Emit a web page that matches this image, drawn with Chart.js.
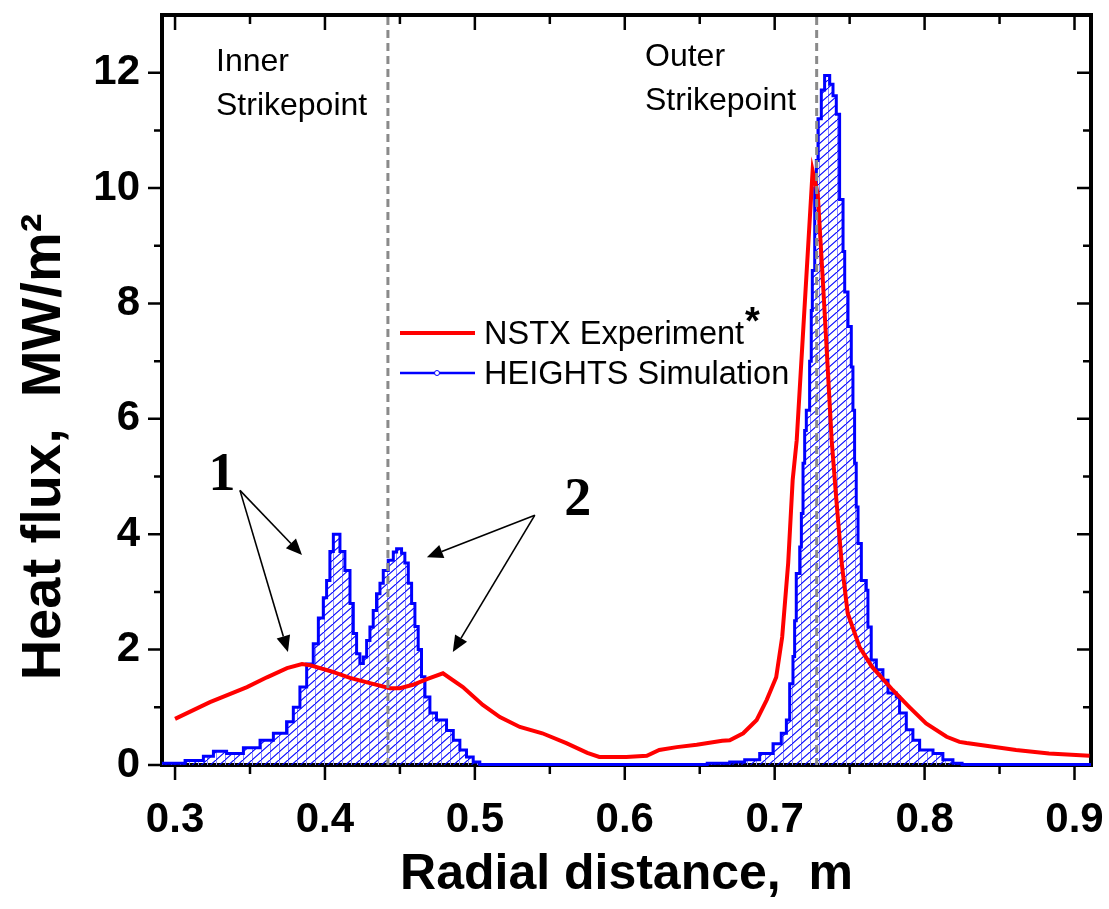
<!DOCTYPE html>
<html>
<head>
<meta charset="utf-8">
<script src="https://cdn.jsdelivr.net/npm/chart.js@4.4.0/dist/chart.umd.min.js"></script>
<style>
  html, body { margin: 0; padding: 0; background: #fff; }
</style>
</head>
<body>
<canvas id="chart" width="1109" height="909"></canvas>
<script>
// DATA - NSTX experiment (red curve)
const expX = [0.300, 0.3233, 0.348, 0.3613, 0.3747, 0.3847, 0.39, 0.4033, 0.4167, 0.43, 0.4433, 0.45, 0.4587, 0.468, 0.4787, 0.492, 0.5053, 0.5167, 0.53, 0.545, 0.561, 0.575, 0.583, 0.601, 0.6147, 0.623, 0.6347, 0.648, 0.665, 0.67, 0.679, 0.688, 0.6947, 0.701, 0.705, 0.709, 0.712, 0.7147, 0.7253, 0.7287, 0.732, 0.7347, 0.738, 0.741, 0.7447, 0.7487, 0.7567, 0.765, 0.7787, 0.79, 0.801, 0.8147, 0.8233, 0.828, 0.861, 0.883, 0.91];
const expY = [0.80, 1.09, 1.35, 1.52, 1.68, 1.75, 1.73, 1.63, 1.51, 1.42, 1.33, 1.33, 1.39, 1.49, 1.59, 1.35, 1.04, 0.83, 0.66, 0.55, 0.38, 0.21, 0.14, 0.14, 0.16, 0.26, 0.31, 0.35, 0.42, 0.43, 0.55, 0.78, 1.13, 1.52, 2.22, 3.5, 4.94, 5.63, 10.3, 9.9, 8.45, 7.2, 5.63, 4.64, 3.5, 2.63, 2.04, 1.70, 1.30, 1.0, 0.72, 0.49, 0.40, 0.38, 0.26, 0.2, 0.16];

// DATA - HEIGHTS simulation (blue histogram, left bin edge + level)
const simX = [0.2913, 0.3067, 0.3189, 0.3256, 0.3344, 0.3456, 0.3567, 0.3656, 0.3744, 0.3789, 0.3833, 0.3878, 0.3922, 0.3956, 0.3989, 0.4011, 0.4033, 0.4056, 0.41, 0.4133, 0.4167, 0.4189, 0.4211, 0.4233, 0.4256, 0.4278, 0.43, 0.4322, 0.4344, 0.4367, 0.4389, 0.4422, 0.4456, 0.4478, 0.4511, 0.4533, 0.4556, 0.4578, 0.46, 0.4622, 0.4644, 0.4667, 0.47, 0.4744, 0.4811, 0.4856, 0.49, 0.4944, 0.4989, 0.5033,
  0.655, 0.67, 0.68, 0.69, 0.6989, 0.7044, 0.7078, 0.71, 0.7122, 0.7133, 0.7144, 0.7167, 0.7178, 0.7189, 0.72, 0.7211, 0.7233, 0.7244, 0.7251, 0.7267, 0.7278, 0.7289, 0.7311, 0.7333, 0.7367, 0.7389, 0.7411, 0.7433, 0.7456, 0.7467, 0.7489, 0.7511, 0.7522, 0.7533, 0.7544, 0.7556, 0.7578, 0.7611, 0.7622, 0.7644, 0.7678, 0.7722, 0.7756, 0.7811, 0.7833, 0.7878, 0.7922, 0.7967, 0.8056, 0.8122, 0.8189, 0.825, 0.911];
const simY = [0.03, 0.08, 0.15, 0.24, 0.2, 0.3, 0.43, 0.55, 0.75, 1.0, 1.35, 1.75, 2.1, 2.55, 2.9, 3.2, 3.7, 4.0, 3.7, 3.37, 2.8, 2.28, 1.93, 1.76, 1.87, 2.16, 2.39, 2.68, 2.97, 3.15, 3.37, 3.55, 3.69, 3.75, 3.67, 3.5, 3.15, 2.8, 2.4, 2.0, 1.53, 1.18, 0.9, 0.78, 0.6, 0.43, 0.26, 0.14, 0.05, 0.01,
  0.03, 0.05, 0.09, 0.2, 0.37, 0.55, 0.78, 1.41, 1.88, 2.5, 3.32, 3.78, 4.36, 5.23, 5.8, 6.15, 7.0, 7.88, 8.57, 10.0, 10.48, 11.2, 11.7, 11.95, 11.8, 11.6, 11.28, 9.8, 8.9, 8.2, 7.6, 6.9, 6.15, 5.23, 4.47, 3.84, 3.2, 3.03, 2.39, 1.82, 1.65, 1.47, 1.25, 1.18, 0.9, 0.61, 0.43, 0.26, 0.2, 0.09, 0.03, 0.01, 0.01];

// AXES
const xTicks = [0.3, 0.4, 0.5, 0.6, 0.7, 0.8, 0.9];
const yTicks = [0, 2, 4, 6, 8, 10, 12];
const xRange = [0.2913, 0.911];
const yRange = [0, 13];

// strikepoint markers (dashed lines)
const strikeX = [0.442, 0.728];

const FONT = '"Liberation Sans", Arial, sans-serif';
const SERIF = '"Liberation Serif", "Times New Roman", serif';

// hatch pattern for the simulation fill
function makeHatch() {
    const c = document.createElement("canvas");
    c.width = 9; c.height = 8;
    const g = c.getContext("2d");
    g.strokeStyle = "#8c8cff";
    g.lineWidth = 1;
    g.beginPath(); g.moveTo(0.5, 0); g.lineTo(0.5, 8); g.stroke();
    g.strokeStyle = "#0000ff";
    g.lineWidth = 1.1;
    g.beginPath(); g.moveTo(-1, 8 + 8 / 9); g.lineTo(10, -8 / 9); g.stroke();
    return g.createPattern(c, "repeat");
}

function arrow(ctx, x0, y0, x1, y1) {
    const a = Math.atan2(y1 - y0, x1 - x0);
    const len = 16, w = 7;
    const bx = x1 - len * Math.cos(a), by = y1 - len * Math.sin(a);
    ctx.beginPath();
    ctx.moveTo(x0, y0);
    ctx.lineTo(bx, by);
    ctx.stroke();
    ctx.beginPath();
    ctx.moveTo(x1, y1);
    ctx.lineTo(bx + w * Math.sin(a), by - w * Math.cos(a));
    ctx.lineTo(bx - w * Math.sin(a), by + w * Math.cos(a));
    ctx.closePath();
    ctx.fill();
}

// frame, ticks and annotations
const decor = {
    id: "decor",
    beforeDatasetsDraw(chart) {
        const { ctx, chartArea: a, scales: { x, y } } = chart;
        ctx.save();
        ctx.strokeStyle = "#000";
        ctx.lineWidth = 2.5;
        const xMinor = xTicks.map(v => v + 0.05).filter(v => v < xRange[1]);
        const yMinor = yTicks.map(v => v + 1).filter(v => v < yRange[1]);
        ctx.beginPath();
        xTicks.forEach(v => {
            const px = x.getPixelForValue(v);
            ctx.moveTo(px, a.bottom); ctx.lineTo(px, a.bottom + 15);
            ctx.moveTo(px, a.top); ctx.lineTo(px, a.top + 15);
        });
        xMinor.forEach(v => {
            const px = x.getPixelForValue(v);
            ctx.moveTo(px, a.bottom); ctx.lineTo(px, a.bottom + 9);
            ctx.moveTo(px, a.top); ctx.lineTo(px, a.top + 9);
        });
        yTicks.forEach(v => {
            const py = y.getPixelForValue(v);
            ctx.moveTo(a.left, py); ctx.lineTo(a.left - 14, py);
            ctx.moveTo(a.right, py); ctx.lineTo(a.right - 14, py);
        });
        yMinor.forEach(v => {
            const py = y.getPixelForValue(v);
            ctx.moveTo(a.left, py); ctx.lineTo(a.left - 8, py);
            ctx.moveTo(a.right, py); ctx.lineTo(a.right - 8, py);
        });
        ctx.stroke();
        ctx.lineWidth = 4;
        ctx.strokeRect(a.left, a.top, a.right - a.left, a.bottom - a.top);
        ctx.restore();
    },
    afterDatasetsDraw(chart) {
        const { ctx, chartArea: a, scales: { x, y } } = chart;
        ctx.save();

        // dashed strikepoint lines
        ctx.strokeStyle = "#8a8a8a";
        ctx.lineWidth = 3;
        ctx.setLineDash([8, 5]);
        strikeX.forEach(v => {
            const px = x.getPixelForValue(v);
            ctx.beginPath();
            ctx.moveTo(px, a.top + 2);
            ctx.lineTo(px, a.bottom);
            ctx.stroke();
        });
        ctx.setLineDash([]);

        // labels
        ctx.fillStyle = "#000";
        ctx.font = "32px " + FONT;
        ctx.textAlign = "left";
        ctx.textBaseline = "alphabetic";
        ctx.fillText("Inner", 216, 71);
        ctx.fillText("Strikepoint", 216, 115);
        ctx.fillText("Outer", 645, 66);
        ctx.fillText("Strikepoint", 645, 110);

        // legend
        ctx.lineWidth = 4;
        ctx.strokeStyle = "#ff0000";
        ctx.beginPath(); ctx.moveTo(400, 333); ctx.lineTo(475, 333); ctx.stroke();
        ctx.lineWidth = 2.5;
        ctx.strokeStyle = "#0000ff";
        ctx.beginPath(); ctx.moveTo(400, 373); ctx.lineTo(475, 373); ctx.stroke();
        ctx.lineWidth = 1;
        ctx.beginPath(); ctx.arc(437, 373, 2.5, 0, Math.PI * 2); ctx.fillStyle = "#fff"; ctx.fill(); ctx.stroke();
        ctx.fillStyle = "#000";
        ctx.font = "32.5px " + FONT;
        ctx.fillText("NSTX Experiment", 484, 344);
        ctx.fillText("HEIGHTS Simulation", 484, 384);
        ctx.font = "bold 38px " + FONT;
        ctx.fillText("*", 745, 334);

        // numbered arrows
        ctx.strokeStyle = "#000";
        ctx.fillStyle = "#000";
        ctx.lineWidth = 1.6;
        const P = (vx, vy) => [x.getPixelForValue(vx), y.getPixelForValue(vy)];
        const s1 = P(0.3433, 4.76), s2 = P(0.54, 4.33);
        arrow(ctx, ...s1, ...P(0.3847, 3.64));
        arrow(ctx, ...s1, ...P(0.3753, 1.96));
        arrow(ctx, ...s2, ...P(0.468, 3.60));
        arrow(ctx, ...s2, ...P(0.4853, 1.96));
        ctx.font = "bold 54px " + SERIF;
        ctx.textAlign = "center";
        const l1 = P(0.3313, 4.77), l2 = P(0.5687, 4.33);
        ctx.fillText("1", l1[0], l1[1]);
        ctx.fillText("2", l2[0], l2[1]);

        // y axis title
        ctx.translate(45, 447);
        ctx.rotate(-Math.PI / 2);
        ctx.textAlign = "center";
        ctx.textBaseline = "middle";
        ctx.font = "bold 56px " + FONT;
        ctx.fillText("Heat flux,  MW/m\u00B2", 0, 0);
        ctx.restore();
    }
};

const hatch = makeHatch();

new Chart(document.getElementById("chart"), {
    type: "line",
    data: {
        datasets: [
            {
                label: "NSTX Experiment",
                data: expX.map((v, i) => ({ x: v, y: expY[i] })),
                borderColor: "#ff0000",
                borderWidth: 4,
                pointRadius: 0,
                tension: 0,
                fill: false,
                order: 0
            },
            {
                label: "HEIGHTS Simulation",
                data: simX.map((v, i) => ({ x: v, y: simY[i] })),
                borderColor: "#0000ff",
                backgroundColor: hatch,
                borderWidth: 3,
                pointRadius: 0,
                stepped: "before",
                fill: "origin",
                clip: 6,
                order: 1
            }
        ]
    },
    options: {
        responsive: false,
        animation: false,
        devicePixelRatio: 1,
        layout: { padding: { top: 15, right: 18, left: 0, bottom: 0 } },
        plugins: { legend: { display: false }, tooltip: { enabled: false } },
        scales: {
            x: {
                type: "linear",
                min: xRange[0],
                max: xRange[1],
                grid: { display: false, drawTicks: false },
                border: { display: false },
                afterBuildTicks: s => { s.ticks = xTicks.map(v => ({ value: v })); },
                afterFit: s => { s.height = 144; s.paddingLeft = 0; s.paddingRight = 0; },
                ticks: {
                    color: "#000",
                    padding: 30,
                    maxRotation: 0,
                    font: { family: FONT, size: 42, weight: "bold" },
                    callback: v => v.toFixed(1)
                },
                title: {
                    display: true,
                    text: "Radial distance,  m",
                    color: "#000",
                    padding: { top: 0, bottom: 4 },
                    font: { family: FONT, size: 50, weight: "bold" }
                }
            },
            y: {
                min: yRange[0],
                max: yRange[1],
                grid: { display: false, drawTicks: false },
                border: { display: false },
                afterBuildTicks: s => { s.ticks = yTicks.map(v => ({ value: v })); },
                afterFit: s => { s.width = 162; s.paddingTop = 0; s.paddingBottom = 0; },
                ticks: {
                    color: "#000",
                    padding: 22,
                    font: { family: FONT, size: 42, weight: "bold" },
                    callback: v => String(v)
                }
            }
        }
    },
    plugins: [decor]
});
</script>
</body>
</html>
